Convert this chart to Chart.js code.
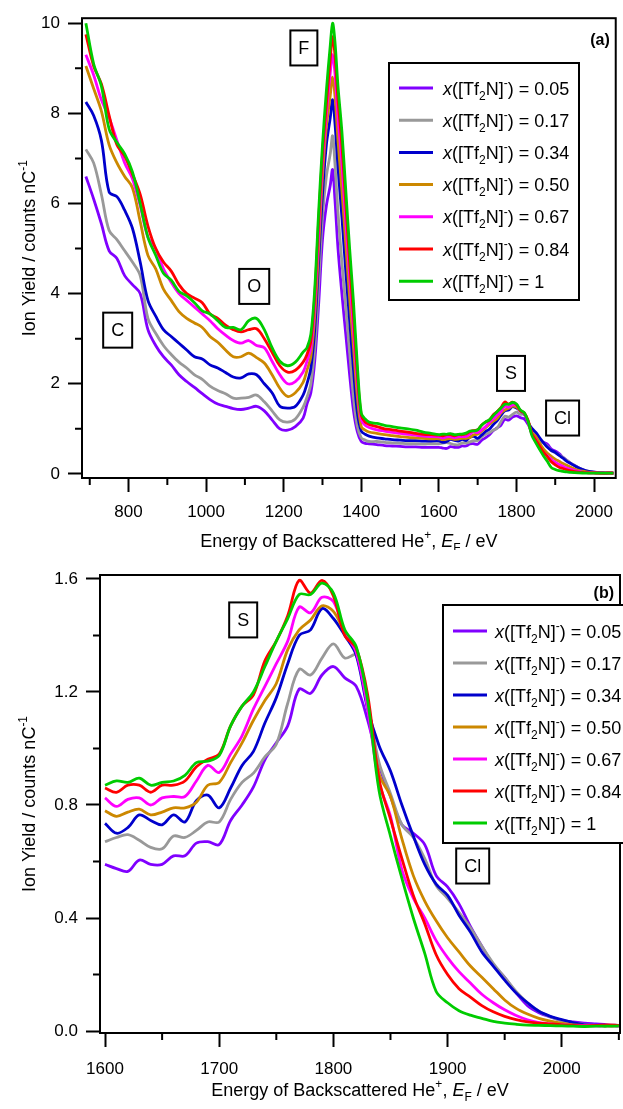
<!DOCTYPE html>
<html>
<head>
<meta charset="utf-8">
<title>Ion yield spectra</title>
<script src="https://cdn.jsdelivr.net/npm/chart.js@4.4.1/dist/chart.umd.min.js"></script>
<style>
  html, body { margin: 0; padding: 0; background: #fff; }
  body { width: 623px; height: 1109px; position: relative; overflow: hidden; }
  .panel { position: absolute; left: 0; width: 623px; }
  #panelA { top: 0; height: 550px; }
  #panelB { top: 550px; height: 559px; }
</style>
</head>
<body>
<div class="panel" id="panelA"><canvas id="chartA" width="623" height="550"></canvas></div>
<div class="panel" id="panelB"><canvas id="chartB" width="623" height="559"></canvas></div>
<script>
// Mole fraction of [Tf2N]- for each spectrum
const seriesLabels = ['0.05', '0.17', '0.34', '0.50', '0.67', '0.84', '1'];
const seriesColors = ['#8000ff', '#999999', '#0000cc', '#cc8800', '#ff00ff', '#ff0000', '#00cc00'];

// Energies (eV) below 1600, only used in panel (a)
const energyLow = [690, 710, 730, 750, 770, 790, 810, 830, 850, 870, 890, 910, 930, 950, 970, 990,
  1010, 1030, 1050, 1070, 1090, 1110, 1130, 1150, 1170, 1190, 1210, 1230, 1250,
  1260, 1270, 1280, 1290, 1300, 1310, 1320, 1326, 1332, 1340, 1350, 1360, 1370, 1380, 1390, 1400, 1410, 1420,
  1440, 1460, 1480, 1500, 1520, 1540, 1560, 1580];

const purpleLow = [6.6, 6.1, 5.55, 4.95, 4.78, 4.4, 4.2, 4.0, 3.2, 2.85, 2.6, 2.42, 2.2, 2.05, 1.92, 1.78,
  1.65, 1.55, 1.5, 1.45, 1.43, 1.46, 1.5, 1.4, 1.2, 1.0, 0.97, 1.05, 1.24,
  1.55, 1.8, 2.5, 3.75, 5.2, 5.95, 6.4, 6.75, 6.1, 5.0, 4.0, 3.1, 2.2, 1.4, 0.93, 0.72, 0.68, 0.67,
  0.65, 0.63, 0.62, 0.61, 0.6, 0.6, 0.59, 0.59];
const grayLow = [7.2, 6.9, 6.2, 5.4, 5.2, 4.95, 4.7, 4.4, 3.45, 3.12, 2.85, 2.65, 2.48, 2.35, 2.2, 2.1,
  1.95, 1.85, 1.78, 1.68, 1.68, 1.7, 1.75, 1.6, 1.4, 1.2, 1.15, 1.22, 1.48,
  1.7, 2.0, 2.8, 4.2, 5.7, 6.6, 7.1, 7.5, 6.9, 5.8, 4.7, 3.7, 2.7, 1.7, 1.05, 0.8, 0.75, 0.72,
  0.72, 0.7, 0.69, 0.68, 0.67, 0.67, 0.66, 0.67];
const blueLow = [8.25, 7.95, 7.4, 6.25, 6.15, 5.85, 5.45, 4.7, 3.85, 3.5, 3.2, 3.05, 2.9, 2.75, 2.6, 2.55,
  2.42, 2.35, 2.25, 2.15, 2.13, 2.22, 2.2, 2.0, 1.8, 1.5, 1.46, 1.5, 1.75,
  2.0, 2.35, 3.2, 4.7, 6.2, 7.3, 7.9, 8.3, 7.8, 6.8, 5.7, 4.5, 3.4, 2.3, 1.35, 0.95, 0.88, 0.84,
  0.8, 0.78, 0.76, 0.75, 0.74, 0.74, 0.73, 0.73];
const orangeLow = [9.05, 8.55, 8.05, 7.3, 6.9, 6.6, 6.35, 5.6, 4.85, 4.55, 4.1, 3.85, 3.6, 3.45, 3.35, 3.25,
  3.05, 2.92, 2.75, 2.6, 2.6, 2.68, 2.58, 2.46, 2.2, 1.9, 1.72, 1.8, 2.03,
  2.3, 2.6, 3.5, 5.0, 6.6, 7.7, 8.4, 8.8, 8.4, 7.4, 6.3, 5.1, 3.9, 2.8, 1.7, 1.05, 0.97, 0.93,
  0.9, 0.87, 0.85, 0.83, 0.81, 0.8, 0.79, 0.78];
const magentaLow = [9.3, 8.85, 8.3, 7.9, 7.4, 6.9, 6.55, 5.95, 5.25, 5.0, 4.55, 4.25, 4.0, 3.85, 3.7, 3.55,
  3.4, 3.22, 3.08, 2.96, 2.9, 2.96, 2.85, 2.8, 2.5, 2.2, 2.0, 2.05, 2.26,
  2.5, 2.8, 3.75, 5.3, 6.9, 8.0, 8.9, 9.3, 8.9, 7.9, 6.9, 5.6, 4.4, 3.2, 2.0, 1.2, 1.08, 1.03,
  0.98, 0.95, 0.92, 0.9, 0.88, 0.86, 0.84, 0.83];
const redLow = [9.75, 9.05, 8.65, 7.95, 7.3, 7.05, 6.65, 6.2, 5.5, 5.0, 4.7, 4.5, 4.2, 4.0, 3.9, 3.8,
  3.55, 3.45, 3.3, 3.2, 3.15, 3.2, 3.22, 3.0, 2.7, 2.4, 2.26, 2.3, 2.48,
  2.65, 2.95, 3.95, 5.6, 7.1, 8.2, 9.2, 9.7, 9.3, 8.3, 7.3, 6.0, 4.7, 3.5, 2.2, 1.3, 1.15, 1.1,
  1.05, 1.0, 0.98, 0.95, 0.93, 0.9, 0.88, 0.87];
const greenLow = [10.0, 9.1, 8.6, 7.65, 7.35, 7.1, 6.7, 6.0, 5.25, 4.85, 4.45, 4.3, 4.05, 3.95, 3.8, 3.62,
  3.55, 3.4, 3.25, 3.25, 3.2, 3.4, 3.45, 3.2, 2.8, 2.5, 2.4, 2.48, 2.7,
  2.8, 3.1, 4.1, 5.8, 7.3, 8.5, 9.5, 10.0, 9.6, 8.6, 7.6, 6.3, 5.0, 3.8, 2.4, 1.35, 1.22, 1.15,
  1.12, 1.08, 1.05, 1.02, 1.0, 0.97, 0.93, 0.9];

// Energies (eV) from 1600, shown in panel (b) and continued in panel (a)
const energyHigh = [1600, 1610, 1620, 1630, 1640, 1650, 1660, 1670, 1680, 1690,
  1700, 1710, 1720, 1730, 1740, 1750, 1760, 1770, 1780, 1790,
  1800, 1810, 1820, 1830, 1840, 1850, 1860, 1870, 1880, 1890,
  1900, 1910, 1920, 1930, 1940, 1950, 1960, 1970, 1980, 1990,
  2000, 2010, 2020, 2030, 2040, 2050];

const purpleHigh = [0.59, 0.575, 0.565, 0.605, 0.59, 0.59, 0.62, 0.62, 0.665, 0.67,
  0.66, 0.745, 0.80, 0.864, 0.96, 1.02, 1.08, 1.21, 1.195, 1.26,
  1.29, 1.25, 1.22, 1.10, 0.94, 0.83, 0.73, 0.70, 0.66, 0.55,
  0.51, 0.45, 0.37, 0.30, 0.235, 0.19, 0.135, 0.09, 0.065, 0.05,
  0.038, 0.032, 0.028, 0.025, 0.022, 0.02];
const grayHigh = [0.67, 0.685, 0.695, 0.675, 0.65, 0.645, 0.69, 0.685, 0.71, 0.74,
  0.74, 0.82, 0.88, 0.913, 0.97, 1.015, 1.16, 1.28, 1.26, 1.32,
  1.37, 1.32, 1.33, 1.16, 0.95, 0.84, 0.73, 0.685, 0.61, 0.515,
  0.47, 0.42, 0.365, 0.30, 0.24, 0.19, 0.14, 0.10, 0.07, 0.05,
  0.037, 0.028, 0.023, 0.02, 0.02, 0.018];
const blueHigh = [0.735, 0.70, 0.72, 0.765, 0.745, 0.73, 0.765, 0.74, 0.815, 0.835,
  0.79, 0.86, 0.94, 0.99, 1.09, 1.18, 1.30, 1.40, 1.42, 1.495,
  1.46, 1.40, 1.33, 1.14, 1.01, 0.92, 0.80, 0.69, 0.59, 0.52,
  0.48, 0.41, 0.35, 0.28, 0.23, 0.18, 0.135, 0.10, 0.07, 0.052,
  0.04, 0.03, 0.022, 0.02, 0.02, 0.018];
const orangeHigh = [0.78, 0.76, 0.775, 0.785, 0.765, 0.775, 0.79, 0.79, 0.81, 0.87,
  0.88, 0.95, 1.02, 1.10, 1.17, 1.23, 1.35, 1.42, 1.455, 1.505,
  1.485, 1.41, 1.35, 1.16, 0.91, 0.83, 0.68, 0.55, 0.46, 0.39,
  0.33, 0.28, 0.23, 0.19, 0.15, 0.11, 0.08, 0.06, 0.045, 0.035,
  0.028, 0.022, 0.02, 0.02, 0.018, 0.018];
const magentaHigh = [0.825, 0.795, 0.82, 0.825, 0.80, 0.825, 0.83, 0.83, 0.885, 0.94,
  0.915, 0.98, 1.045, 1.14, 1.22, 1.30, 1.38, 1.50, 1.48, 1.535,
  1.52, 1.41, 1.34, 1.14, 0.88, 0.76, 0.57, 0.47, 0.40, 0.32,
  0.26, 0.21, 0.17, 0.13, 0.10, 0.075, 0.055, 0.04, 0.03, 0.025,
  0.022, 0.02, 0.02, 0.018, 0.018, 0.018];
const redHigh = [0.86, 0.845, 0.87, 0.87, 0.845, 0.87, 0.87, 0.885, 0.935, 0.962,
  0.98, 1.08, 1.15, 1.19, 1.31, 1.38, 1.47, 1.595, 1.55, 1.595,
  1.54, 1.40, 1.355, 1.19, 0.89, 0.75, 0.61, 0.48, 0.38, 0.27,
  0.20, 0.15, 0.12, 0.09, 0.068, 0.052, 0.04, 0.032, 0.028, 0.025,
  0.022, 0.02, 0.018, 0.02, 0.022, 0.02];
const greenHigh = [0.87, 0.885, 0.88, 0.895, 0.87, 0.88, 0.885, 0.905, 0.95, 0.955,
  0.975, 1.08, 1.15, 1.20, 1.29, 1.38, 1.46, 1.545, 1.545, 1.585,
  1.55, 1.42, 1.36, 1.17, 0.85, 0.69, 0.54, 0.40, 0.275, 0.14,
  0.10, 0.072, 0.056, 0.045, 0.034, 0.028, 0.024, 0.021, 0.02, 0.019,
  0.018, 0.017, 0.016, 0.017, 0.017, 0.018];

// Axis ticks
const xTicksA = [800, 1000, 1200, 1400, 1600, 1800, 2000];
const xMinorA = [700, 900, 1100, 1300, 1500, 1700, 1900];
const yTicksA = [0, 2, 4, 6, 8, 10];
const yMinorA = [1, 3, 5, 7, 9];
const xTicksB = [1600, 1700, 1800, 1900, 2000];
const xMinorB = [1650, 1750, 1850, 1950, 2050];
const yTicksB = [0, 0.4, 0.8, 1.2, 1.6];
const yMinorB = [0.2, 0.6, 1.0, 1.4];

const energyA = energyLow.concat(energyHigh);
const seriesA = [
  purpleLow.concat(purpleHigh), grayLow.concat(grayHigh), blueLow.concat(blueHigh),
  orangeLow.concat(orangeHigh), magentaLow.concat(magentaHigh), redLow.concat(redHigh),
  greenLow.concat(greenHigh)
];
const seriesB = [purpleHigh, grayHigh, blueHigh, orangeHigh, magentaHigh, redHigh, greenHigh];

const FONT = '"Liberation Sans", Arial, Helvetica, sans-serif';

function fontStr(size, italic, bold) {
  return (italic ? 'italic ' : '') + (bold ? 'bold ' : '') + size + 'px ' + FONT;
}

// small rich-text helpers for italic / sub / superscript pieces
function partSize(p, size) {
  return (p.sub || p.sup) ? Math.round(size * 0.68) : size;
}
function richWidth(ctx, parts, size) {
  let w = 0;
  parts.forEach(p => {
    ctx.font = fontStr(partSize(p, size), p.italic);
    w += ctx.measureText(p.t).width;
  });
  return w;
}
function drawRich(ctx, parts, x, y, size) {
  let cx = x;
  parts.forEach(p => {
    ctx.font = fontStr(partSize(p, size), p.italic);
    let dy = 0;
    if (p.sub) dy = size * 0.28;
    if (p.sup) dy = -size * 0.42;
    ctx.fillText(p.t, cx, y + dy);
    cx += ctx.measureText(p.t).width;
  });
}

const labelParts = v => [
  { t: 'x', italic: true }, { t: '([Tf' }, { t: '2', sub: true }, { t: 'N]' },
  { t: '-', sup: true }, { t: ') = ' + v }
];
const xTitleParts = [
  { t: 'Energy of Backscattered He' }, { t: '+', sup: true }, { t: ', ' },
  { t: 'E', italic: true }, { t: 'F', sub: true }, { t: ' / eV' }
];
const yTitleParts = [{ t: 'Ion Yield / counts nC' }, { t: '-1', sup: true }];

// frame, minor ticks, titles, element labels, legend and panel tag
const decorPlugin = {
  id: 'decor',
  afterDraw(chart, args, o) {
    const ctx = chart.ctx;
    const a = chart.chartArea;
    const xs = chart.scales.x, ys = chart.scales.y;
    ctx.save();
    ctx.strokeStyle = '#000';
    ctx.fillStyle = '#000';
    ctx.lineWidth = 2;
    ctx.strokeRect(a.left, a.top, a.right - a.left, a.bottom - a.top);

    ctx.beginPath();
    o.xMinor.forEach(v => {
      const p = xs.getPixelForValue(v);
      ctx.moveTo(p, a.bottom);
      ctx.lineTo(p, a.bottom + 7);
    });
    o.yMinor.forEach(v => {
      const p = ys.getPixelForValue(v);
      ctx.moveTo(a.left, p);
      ctx.lineTo(a.left - 7, p);
    });
    ctx.stroke();

    ctx.textAlign = 'left';
    ctx.textBaseline = 'alphabetic';
    const w = richWidth(ctx, xTitleParts, 18);
    drawRich(ctx, xTitleParts, (a.left + a.right) / 2 - w / 2, o.xTitleY, 18);

    ctx.save();
    ctx.translate(o.yTitleX, (a.top + a.bottom) / 2);
    ctx.rotate(-Math.PI / 2);
    const wy = richWidth(ctx, yTitleParts, 18);
    drawRich(ctx, yTitleParts, -wy / 2, 0, 18);
    ctx.restore();

    o.notes.forEach(n => {
      const px = xs.getPixelForValue(n.x), py = ys.getPixelForValue(n.y);
      ctx.font = fontStr(18);
      const bw = ctx.measureText(n.t).width + 16, bh = 35;
      ctx.fillStyle = '#fff';
      ctx.fillRect(px - bw / 2, py - bh / 2, bw, bh);
      ctx.strokeRect(px - bw / 2, py - bh / 2, bw, bh);
      ctx.fillStyle = '#000';
      ctx.textAlign = 'center';
      ctx.textBaseline = 'middle';
      ctx.fillText(n.t, px, py + 1);
    });

    const L = o.legend;
    ctx.fillStyle = '#fff';
    ctx.fillRect(L.x, L.y, L.w, L.h);
    ctx.strokeRect(L.x, L.y, L.w, L.h);
    ctx.textAlign = 'left';
    ctx.textBaseline = 'alphabetic';
    chart.data.datasets.forEach((ds, i) => {
      const ry = L.row0 + i * L.step;
      ctx.strokeStyle = ds.borderColor;
      ctx.lineWidth = 3;
      ctx.beginPath();
      ctx.moveTo(L.line0, ry);
      ctx.lineTo(L.line1, ry);
      ctx.stroke();
      ctx.fillStyle = '#000';
      drawRich(ctx, labelParts(seriesLabels[i]), L.text, ry + 6.5, 18);
    });

    ctx.fillStyle = '#000';
    ctx.font = fontStr(16, false, true);
    ctx.textAlign = 'right';
    ctx.fillText(o.tag, a.right - 6, o.tagY);
    ctx.restore();
  }
};

function buildDatasets(energies, seriesList) {
  return seriesList.map((vals, i) => ({
    label: 'x([Tf2N]-) = ' + seriesLabels[i],
    data: energies.map((e, k) => ({ x: e, y: vals[k] })),
    borderColor: seriesColors[i],
    backgroundColor: seriesColors[i],
    borderWidth: 2.8,
    pointRadius: 0,
    tension: 0.35,
    fill: false,
    order: seriesList.length - i
  }));
}

function makeChart(id, cfg) {
  const tickFont = { family: FONT, size: 17 };
  const grid = { drawOnChartArea: false, drawTicks: true, tickLength: 14, tickWidth: 2, tickColor: '#000' };
  return new Chart(document.getElementById(id), {
    type: 'line',
    data: { datasets: buildDatasets(cfg.energies, cfg.series) },
    plugins: [decorPlugin],
    options: {
      responsive: false,
      animation: false,
      layout: { padding: cfg.padding },
      plugins: {
        legend: { display: false },
        tooltip: { enabled: false },
        decor: cfg.decor
      },
      scales: {
        x: {
          type: 'linear',
          min: cfg.xMin,
          max: cfg.xMax,
          afterBuildTicks: s => { s.ticks = cfg.xTicks.map(v => ({ value: v })); },
          afterFit: s => { s.height = cfg.xAxisHeight; },
          ticks: { font: tickFont, color: '#000', padding: cfg.xPad, maxRotation: 0, autoSkip: false,
                   callback: v => String(v) },
          grid: grid,
          border: { display: false }
        },
        y: {
          type: 'linear',
          min: cfg.yMin,
          max: cfg.yMax,
          afterBuildTicks: s => { s.ticks = cfg.yTicks.map(v => ({ value: v })); },
          afterFit: s => { s.width = cfg.yAxisWidth; },
          ticks: { font: tickFont, color: '#000', padding: 8, autoSkip: false,
                   callback: cfg.yFormat },
          grid: grid,
          border: { display: false }
        }
      }
    }
  });
}

makeChart('chartA', {
  energies: energyA,
  series: seriesA,
  padding: { top: 17, right: 2, left: 0, bottom: 0 },
  xMin: 680, xMax: 2056, yMin: -0.09, yMax: 10.11,
  xTicks: xTicksA, yTicks: yTicksA,
  xAxisHeight: 72, yAxisWidth: 82, xPad: 10,
  yFormat: v => String(v),
  decor: {
    xMinor: xMinorA, yMinor: yMinorA,
    xTitleY: 547, yTitleX: 35, tag: '(a)', tagY: 45,
    notes: [
      { t: 'F', x: 1252, y: 9.45 },
      { t: 'O', x: 1124, y: 4.16 },
      { t: 'C', x: 772, y: 3.19 },
      { t: 'S', x: 1786, y: 2.23 },
      { t: 'Cl', x: 1919, y: 1.24 }
    ],
    legend: { x: 389, y: 63, w: 190, h: 237, row0: 88, step: 32.2, line0: 399, line1: 433, text: 443 }
  }
});

makeChart('chartB', {
  energies: energyHigh,
  series: seriesB,
  padding: { top: 25, right: 3, left: 0, bottom: 0 },
  xMin: 1595.6, xMax: 2051, yMin: -0.007, yMax: 1.614,
  xTicks: xTicksB, yTicks: yTicksB,
  xAxisHeight: 76, yAxisWidth: 100, xPad: 12,
  yFormat: v => Number(v).toFixed(1),
  decor: {
    xMinor: xMinorB, yMinor: yMinorB,
    xTitleY: 546, yTitleX: 35, tag: '(b)', tagY: 48,
    notes: [
      { t: 'S', x: 1721, y: 1.455 },
      { t: 'Cl', x: 1922, y: 0.584 }
    ],
    legend: { x: 443, y: 55, w: 200, h: 238, row0: 81, step: 32, line0: 453, line1: 487, text: 495 }
  }
});
</script>
</body>
</html>
